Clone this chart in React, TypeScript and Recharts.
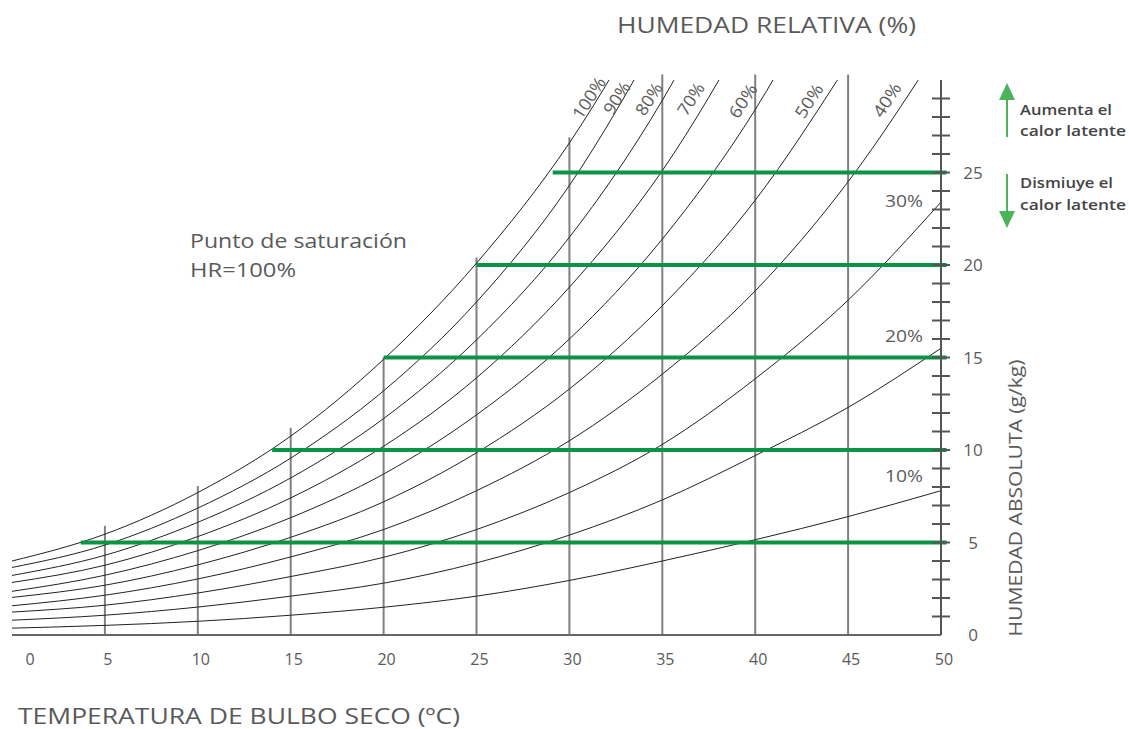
import React from 'react';
import { LineChart, Line, XAxis, YAxis, ReferenceLine } from 'recharts';

// temperaturas de bulbo seco (ºC)
const TEMPS = [0, 5, 10, 15, 20, 25, 30, 35, 40, 45, 50];

// humedad absoluta (g/kg) de cada curva de humedad relativa
const rh100 = [4.0, 5.45, 7.7, 10.75, 14.9, 20.1, 26.6, 35.0];
const rh90 = [3.65, 4.86, 6.86, 9.56, 13.2, 18.0, 24.3, 32.7];
const rh80 = [3.22, 4.31, 6.09, 8.49, 11.7, 15.95, 21.5, 28.9, 38.5];
const rh70 = [2.84, 3.77, 5.32, 7.41, 10.2, 13.9, 18.8, 25.1, 33.4];
const rh60 = [2.36, 3.23, 4.56, 6.34, 8.7, 11.9, 16.0, 21.4, 28.4, 37.5];
const rh50 = [2.03, 2.69, 3.79, 5.28, 7.2, 9.85, 13.3, 17.8, 23.5, 30.9];
const rh40 = [1.58, 2.15, 3.03, 4.22, 5.7, 7.8, 10.5, 14.1, 18.6, 24.5, 31.9];
const rh30 = [1.24, 1.61, 2.27, 3.16, 4.2, 5.7, 7.7, 10.3, 13.85, 18.1, 23.4];
const rh20 = [0.8, 1.07, 1.51, 2.1, 2.8, 3.9, 5.4, 7.3, 9.7, 12.3, 15.5];
const rh10 = [0.37, 0.52, 0.74, 1.07, 1.5, 2.1, 2.95, 4.0, 5.15, 6.4, 7.8];

const CURVES = [rh100, rh90, rh80, rh70, rh60, rh50, rh40, rh30, rh20, rh10];

// líneas verticales de temperatura y hasta dónde suben (g/kg)
const GUIDE_TEMPS = [5, 10, 15, 20, 25, 30, 35, 40, 45];
const GUIDE_TOPS = [5.9, 8.05, 11.2, 15.0, 20.4, 26.9, 30.3, 30.3, 30.3];

// líneas verdes de humedad absoluta, empiezan en el punto de rocío
const HUM_LEVELS = [5, 10, 15, 20, 25];
const DEW_POINTS = [3.7, 14.0, 20.0, 25.0, 29.1];

const X_TICKS = [0, 5, 10, 15, 20, 25, 30, 35, 40, 45, 50];
const Y_TICKS = Array.from({ length: 30 }, (_, i) => i);

const FONT = '"Open Sans", "Noto Sans", sans-serif';
const GREY = '#5a5a5a';
const GREEN = '#0b9444';
const ARROW = '#4db35a';

const XTick = ({ x, y, payload }: any) => (
  <text x={x + (payload.value === 0 ? 18 : 3)} y={y} dy={22} textAnchor="middle"
    fill={GREY} fontSize={16} fontFamily={FONT}>
    {payload.value}
  </text>
);

const YTick = ({ x, y, payload }: any) => (
  <g>
    {payload.value > 0 && (
      <line x1={x - 9} x2={x + 9} y1={y} y2={y} stroke="#555" strokeWidth={2} />
    )}
    {payload.value % 5 === 0 && (
      <text x={x + 32} y={y} dy={6} textAnchor="middle" fill={GREY} fontSize={17} fontFamily={FONT}>
        {payload.value}
      </text>
    )}
  </g>
);

const rhLabels = [
  { t: '100%', x: 589, y: 98, len: 46 },
  { t: '90%', x: 617, y: 98, len: 35 },
  { t: '80%', x: 649, y: 99, len: 35 },
  { t: '70%', x: 691, y: 99, len: 35 },
  { t: '60%', x: 743, y: 101, len: 37 },
  { t: '50%', x: 809, y: 101, len: 37 },
  { t: '40%', x: 887, y: 100, len: 37 },
];

// texto estirado al ancho que tiene en el original
const T = ({ len, children, ...rest }: any) => (
  <text textLength={len} lengthAdjust="spacingAndGlyphs" fill={GREY} {...rest}>{children}</text>
);

export default function App() {
  return (
    <div style={{ position: 'absolute', left: 0, top: 0, width: 1129, height: 729, background: '#fff' }}>
      <LineChart width={1129} height={729} margin={{ top: 80, right: 88, bottom: 64, left: 12 }}>
        <XAxis dataKey="t" type="number" domain={[0, 50]} ticks={X_TICKS} height={30}
          axisLine={{ stroke: '#666', strokeWidth: 2 }} tickLine={false} tick={<XTick />} />
        <YAxis orientation="right" type="number" domain={[0, 30]} allowDataOverflow ticks={Y_TICKS}
          width={100} interval={0} tickSize={0} tickMargin={0} tickLine={false}
          axisLine={{ stroke: '#555', strokeWidth: 2 }} tick={<YTick />} />
        {GUIDE_TEMPS.map((t, i) => (
          <ReferenceLine key={`g${t}`} segment={[{ x: t, y: 0 }, { x: t, y: GUIDE_TOPS[i] }]}
            stroke="#808080" strokeWidth={2} ifOverflow="visible" />
        ))}
        {CURVES.map((vals, i) => (
          <Line key={`c${i}`} data={vals.map((w, j) => ({ t: TEMPS[j], w }))} dataKey="w"
            type="monotone" stroke="#222" strokeWidth={1} dot={false} activeDot={false}
            isAnimationActive={false} />
        ))}
        {HUM_LEVELS.map((w, i) => (
          <ReferenceLine key={`h${w}`} segment={[{ x: DEW_POINTS[i], y: w }, { x: 50.3, y: w }]}
            stroke={GREEN} strokeWidth={4} ifOverflow="visible" />
        ))}
      </LineChart>
      <svg width={1129} height={729} style={{ position: 'absolute', left: 0, top: 0, pointerEvents: 'none' }}
        fontFamily={FONT}>
        <T x={617} y={33} fontSize={22} len={299}>HUMEDAD RELATIVA (%)</T>
        <T x={18} y={724} fontSize={22} len={442}>TEMPERATURA DE BULBO SECO (ºC)</T>
        <T x={190} y={248} fontSize={20} len={217}>Punto de saturación</T>
        <T x={190} y={277} fontSize={20} len={106}>HR=100%</T>
        <T x={885} y={207} fontSize={16} len={38}>30%</T>
        <T x={885} y={342} fontSize={16} len={38}>20%</T>
        <T x={885} y={482} fontSize={16} len={38}>10%</T>
        {rhLabels.map((l) => (
          <T key={l.t} x={l.x} y={l.y} dy={6} textAnchor="middle" fontSize={17} len={l.len}
            transform={`rotate(-57 ${l.x} ${l.y})`}>{l.t}</T>
        ))}
        <T x={1016} y={498} dy={6} textAnchor="middle" fontSize={18} len={277}
          transform="rotate(-90 1016 498)">HUMEDAD ABSOLUTA (g/kg)</T>
        <line x1={1007} y1={137} x2={1007} y2={98} stroke={ARROW} strokeWidth={2} />
        <polygon points="1007,83 999,100 1015,100" fill={ARROW} />
        <line x1={1007} y1={174} x2={1007} y2={213} stroke={ARROW} strokeWidth={2} />
        <polygon points="1007,228 999,211 1015,211" fill={ARROW} />
        <T x={1020} y={115} fontSize={15} fontWeight={600} fill="#444" len={92}>Aumenta el</T>
        <T x={1020} y={136} fontSize={15} fontWeight={600} fill="#444" len={106}>calor latente</T>
        <T x={1020} y={188} fontSize={15} fontWeight={600} fill="#444" len={93}>Dismiuye el</T>
        <T x={1020} y={210} fontSize={15} fontWeight={600} fill="#444" len={106}>calor latente</T>
      </svg>
    </div>
  );
}
